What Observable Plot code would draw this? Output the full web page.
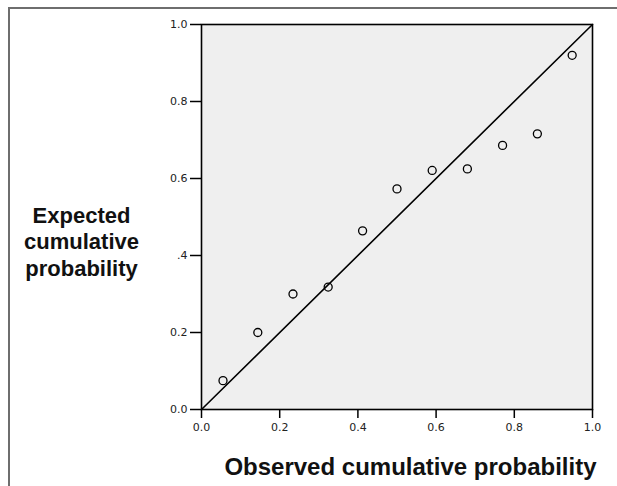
<!DOCTYPE html>
<html><head><meta charset="utf-8">
<script src="https://cdn.jsdelivr.net/npm/d3@7"></script>
<script src="https://cdn.jsdelivr.net/npm/@observablehq/plot@0.6"></script>
<style>
html,body{margin:0;padding:0;background:#fff;width:617px;height:486px;overflow:hidden;}
#frame{position:absolute;left:8px;top:7px;width:620px;height:490px;border-top:2px solid #6e6e6e;border-left:2px solid #6e6e6e;box-sizing:border-box;}
#chart{position:absolute;left:0;top:0;}
</style></head>
<body><div id="frame"></div><div id="chart"></div>
<script>
const observed = [0.055, 0.144, 0.234, 0.324, 0.412, 0.500, 0.590, 0.680, 0.770, 0.859, 0.948];
const expected = [0.075, 0.200, 0.300, 0.318, 0.464, 0.573, 0.621, 0.625, 0.686, 0.716, 0.920];
const tickValues = [0, 0.2, 0.4, 0.6, 0.8, 1.0];
const xTickLabels = ["0.0", "0.2", "0.4", "0.6", "0.8", "1.0"];
const yTickLabels = ["0.0", "0.2", ".4", "0.6", "0.8", "1.0"];
const diagonal = [0, 1];
const xTitle = "Observed cumulative probability";
const yTitle = "Expected\ncumulative\nprobability";

const points = observed.map((x, i) => ({x, y: expected[i]}));
const diag = diagonal.map(v => ({x: v, y: v}));

const chart = Plot.plot({
  width: 617, height: 486,
  marginLeft: 201, marginRight: 25, marginTop: 24, marginBottom: 77,
  style: {fontFamily: "DejaVu Sans, sans-serif", background: "transparent", overflow: "visible"},
  x: {domain: [0, 1]},
  y: {domain: [0, 1]},
  marks: [
    Plot.frame({fill: "#efefef"}),
    Plot.line(diag, {x: "x", y: "y", stroke: "#000", strokeWidth: 1.6}),
    Plot.dot(points, {x: "x", y: "y", r: 4, stroke: "#000", strokeWidth: 1.3, fill: "none"}),
    Plot.frame({stroke: "#000", strokeWidth: 1.6}),
    Plot.axisX({ticks: tickValues, tickSize: 9, tickPadding: 5, tickFormat: (d, i) => xTickLabels[i],
      fontSize: 11, stroke: "#000", strokeWidth: 1.5, label: null, fill: "#222"}),
    Plot.axisY({ticks: tickValues, tickSize: 11, tickPadding: 3, tickFormat: (d, i) => yTickLabels[i],
      fontSize: 11, stroke: "#000", strokeWidth: 1.5, label: null, fill: "#222"}),
    Plot.text([xTitle], {frameAnchor: "bottom-right", dx: 4, dy: 65, text: d => d,
      fontSize: 24, fontWeight: "bold", fontFamily: "Liberation Sans, Arial, sans-serif", textAnchor: "end", fill: "#111"}),
    Plot.text([yTitle], {frameAnchor: "left", dx: -120, dy: 24, text: d => d, lineHeight: 1.2,
      fontSize: 22, fontWeight: "bold", fontFamily: "Liberation Sans, Arial, sans-serif", textAnchor: "middle", fill: "#111"})
  ]
});
document.getElementById("chart").appendChild(chart);
</script>
</body></html>
